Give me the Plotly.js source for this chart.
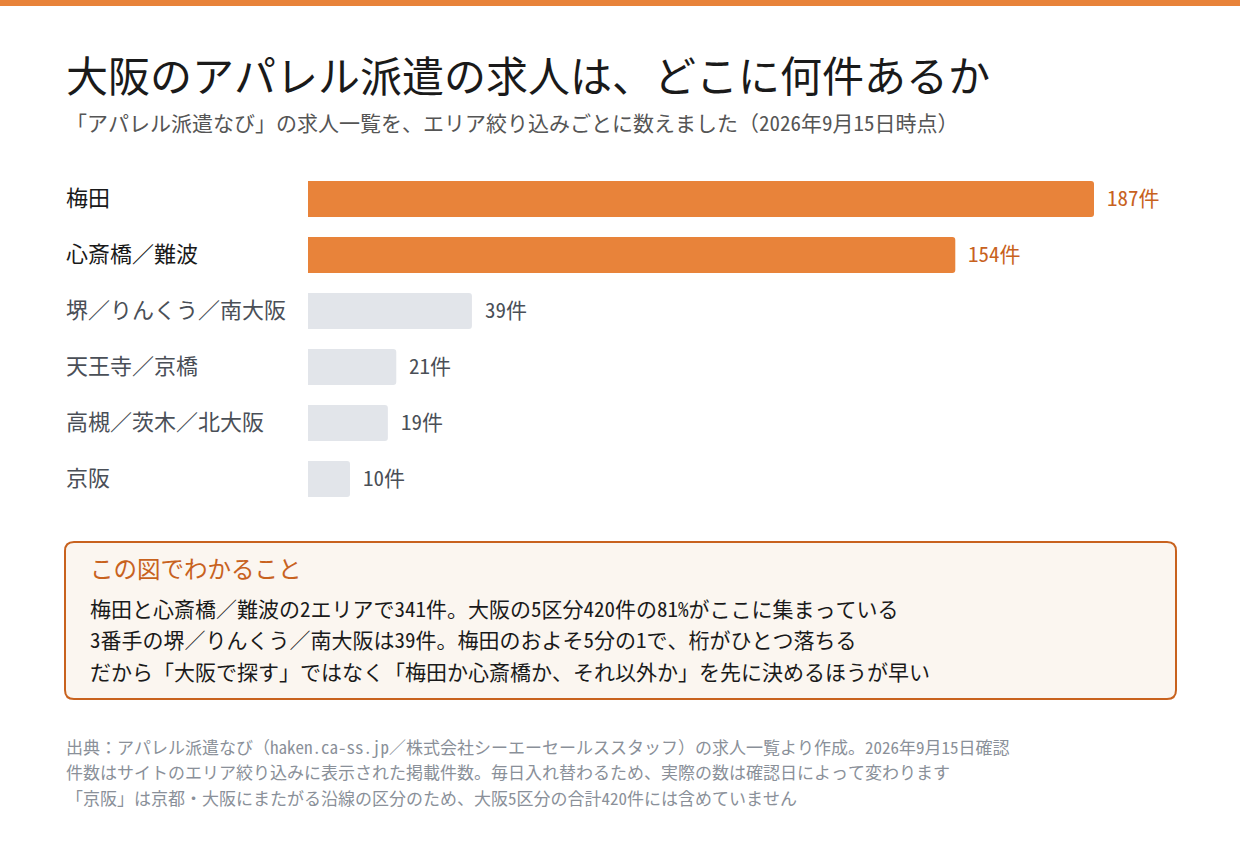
<!DOCTYPE html>
<html>
<head>
<meta charset="utf-8">
<script src="https://cdn.plot.ly/plotly-3.0.1.min.js"></script>
<style>
html,body{margin:0;padding:0;background:#fff;}
#chart{width:1240px;height:847px;}
</style>
</head>
<body>
<div id="chart"></div>
<script>
// ---- data ----
const categories = ["梅田", "心斎橋／難波", "堺／りんくう／南大阪", "天王寺／京橋", "高槻／茨木／北大阪", "京阪"];
const counts = [187, 154, 39, 21, 19, 10];
const highlighted = [true, true, false, false, false, false];
const unitLabel = "件";

const titleText = "大阪のアパレル派遣の求人は、どこに何件あるか";
const subtitleText = "「アパレル派遣なび」の求人一覧を、エリア絞り込みごとに数えました（2026年9月15日時点）";
const boxHeading = "この図でわかること";
const boxLines = [
  "梅田と心斎橋／難波の2エリアで341件。大阪の5区分420件の81%がここに集まっている",
  "3番手の堺／りんくう／南大阪は39件。梅田のおよそ5分の1で、桁がひとつ落ちる",
  "だから「大阪で探す」ではなく「梅田か心斎橋か、それ以外か」を先に決めるほうが早い"
];
const footerLines = [
  "出典：アパレル派遣なび（haken.ca-ss.jp／株式会社シーエーセールススタッフ）の求人一覧より作成。2026年9月15日確認",
  "件数はサイトのエリア絞り込みに表示された掲載件数。毎日入れ替わるため、実際の数は確認日によって変わります",
  "「京阪」は京都・大阪にまたがる沿線の区分のため、大阪5区分の合計420件には含めていません"
];

// ---- layout geometry ----
const W = 1240, H = 847;
const ML = 308, MR = 40, MT = 171, MB = 340;
const PW = W - ML - MR, PH = H - MT - MB;
const pxPerUnit = (1094 - 308) / 187;
const px = X => (X - ML) / PW;
const py = Y => (H - MB - Y) / PH;

const FONT = '"Noto Sans Mono CJK JP", "Noto Sans CJK JP", "Noto Sans", sans-serif';
const ORANGE = "#E8833A";
const DARK_ORANGE = "#C8621E";
const GREY_BAR = "#E2E5EA";

const trace = {
  type: "bar",
  orientation: "h",
  y: categories,
  x: counts,
  marker: {color: highlighted.map(h => h ? ORANGE : GREY_BAR), line: {width: 0}},
  hoverinfo: "skip"
};

const annotations = [];
// title & subtitle
annotations.push({xref:"paper", yref:"paper", x:px(64), y:py(74), xanchor:"left", yanchor:"middle",
  text:titleText, showarrow:false, font:{family:FONT, size:42, color:"#1a1a1a"}});
annotations.push({xref:"paper", yref:"paper", x:px(64), y:py(122), xanchor:"left", yanchor:"middle",
  text:subtitleText, showarrow:false, font:{family:FONT, size:21, color:"#555"}});
// category labels
categories.forEach((c, i) => {
  annotations.push({xref:"paper", yref:"y", x:px(64), y:c, xanchor:"left", yanchor:"middle", yshift:3,
    text:c, showarrow:false, font:{family:FONT, size:22, color: highlighted[i] ? "#1a1a1a" : "#4a4f57"}});
  annotations.push({xref:"x", yref:"y", x:counts[i], y:c, xanchor:"left", yanchor:"middle", xshift:11, yshift:2,
    text: counts[i] + unitLabel, showarrow:false,
    font:{family:FONT, size:21, color: highlighted[i] ? DARK_ORANGE : "#4a4f57"}});
});
// box
annotations.push({xref:"paper", yref:"paper", x:px(88), y:py(568), xanchor:"left", yanchor:"middle",
  text:boxHeading, showarrow:false, font:{family:FONT, size:23.5, color:DARK_ORANGE}});
boxLines.forEach((t, i) => {
  annotations.push({xref:"paper", yref:"paper", x:px(88), y:py(607.5 + i * 31.5), xanchor:"left", yanchor:"middle",
    text:t, showarrow:false, font:{family:FONT, size:21, color:"#1a1a1a"}});
});
// footer
footerLines.forEach((t, i) => {
  annotations.push({xref:"paper", yref:"paper", x:px(64), y:py(746 + i * 25.5), xanchor:"left", yanchor:"middle",
    text:t, showarrow:false, font:{family:FONT, size:17, color:"#8a9099"}});
});

function roundRect(X0, Y0, X1, Y1, r) {
  const rx = r / PW, ry = r / PH;
  const x0 = px(X0), x1 = px(X1), yt = py(Y0), yb = py(Y1);
  return `M${x0 + rx},${yt} L${x1 - rx},${yt} Q${x1},${yt} ${x1},${yt - ry} ` +
         `L${x1},${yb + ry} Q${x1},${yb} ${x1 - rx},${yb} ` +
         `L${x0 + rx},${yb} Q${x0},${yb} ${x0},${yb + ry} ` +
         `L${x0},${yt - ry} Q${x0},${yt} ${x0 + rx},${yt} Z`;
}

const shapes = [
  {type:"rect", xref:"paper", yref:"paper", x0:px(0), x1:px(W), y0:py(0), y1:py(6),
   fillcolor:ORANGE, line:{width:0}, layer:"below"},
  {type:"path", xref:"paper", yref:"paper", path: roundRect(65, 542, 1176, 699, 9),
   fillcolor:"#FBF6F0", line:{color:DARK_ORANGE, width:2}, layer:"below"}
];

const layout = {
  width: W, height: H,
  margin: {l: ML, r: MR, t: MT, b: MB, pad: 0},
  paper_bgcolor: "#fff", plot_bgcolor: "#fff",
  showlegend: false,
  bargap: 20 / 56,
  barcornerradius: 3,
  xaxis: {range: [0, PW / pxPerUnit], visible: false, fixedrange: true},
  yaxis: {autorange: "reversed", showticklabels: false, showgrid: false, zeroline: false,
          showline: false, ticks: "", fixedrange: true, type: "category"},
  annotations: annotations,
  shapes: shapes,
  font: {family: FONT}
};

Plotly.newPlot("chart", [trace], layout, {displayModeBar: false, staticPlot: true});
</script>
</body>
</html>
